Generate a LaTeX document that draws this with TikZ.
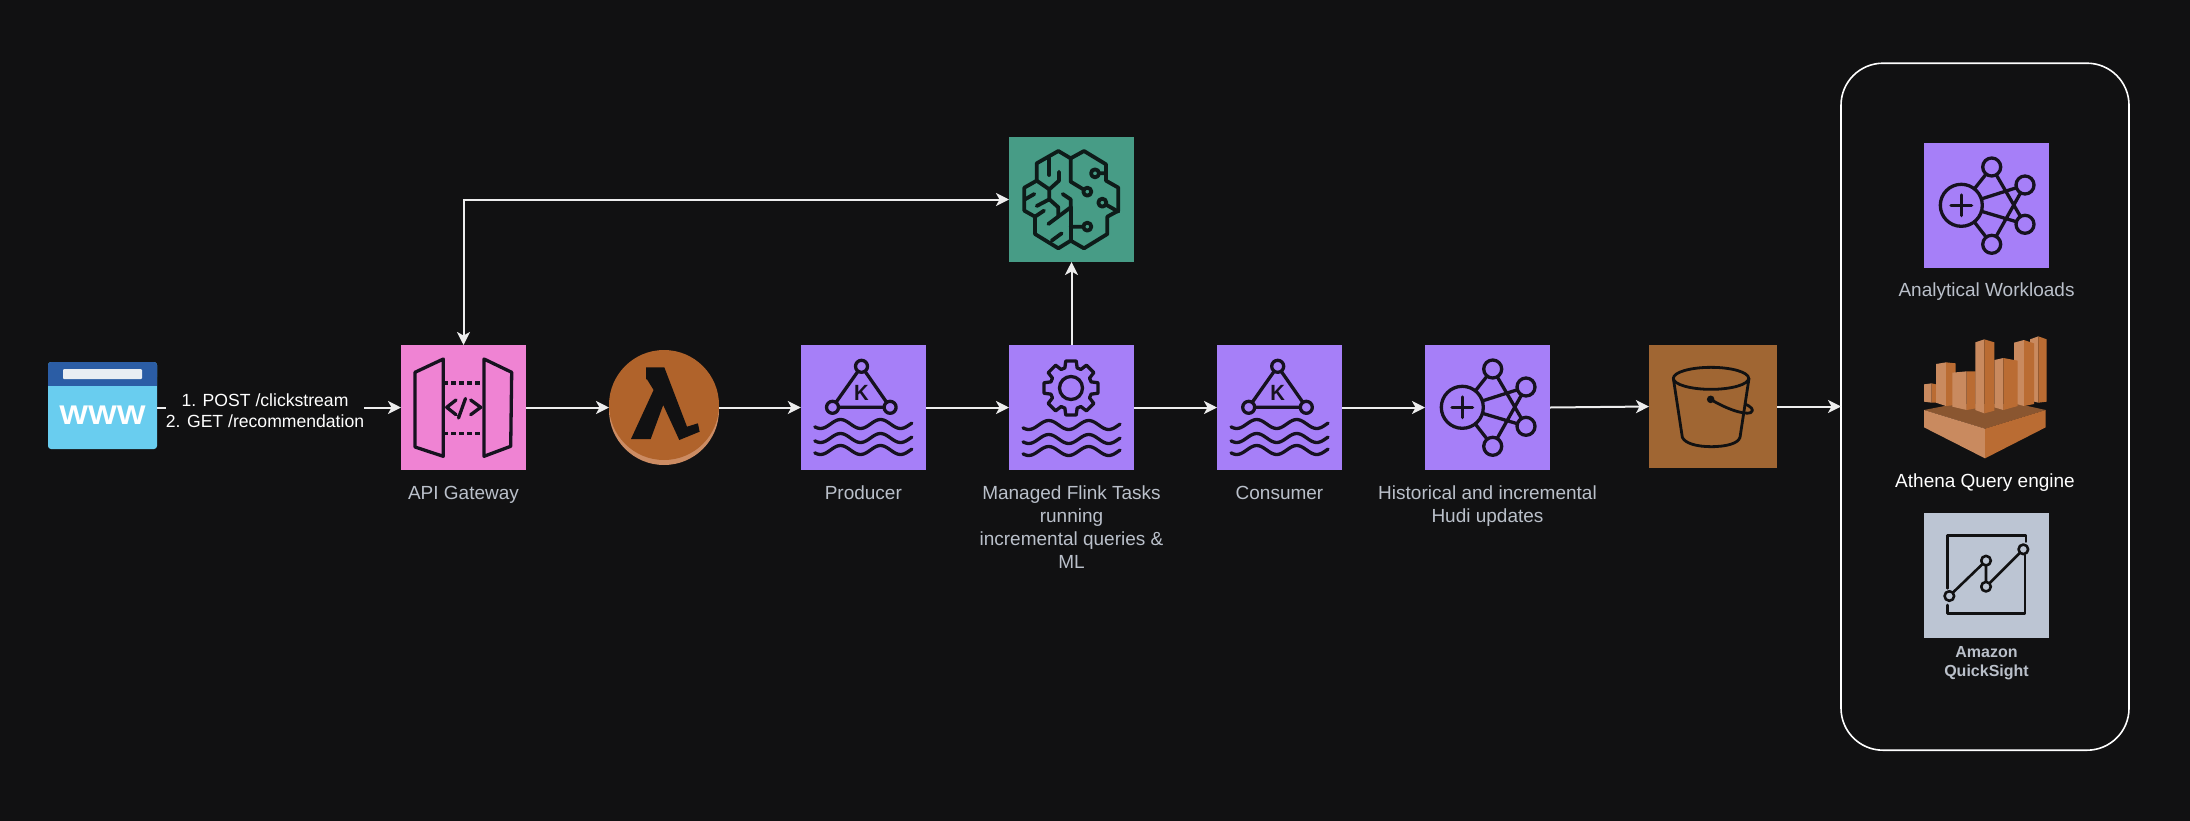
\documentclass[tikz,border=0pt]{standalone}
\usepackage{fontspec}
\setmainfont{Liberation Sans}
\usetikzlibrary{arrows.meta}
\definecolor{bgc}{HTML}{111112}
\definecolor{inkc}{HTML}{16121F}
\definecolor{lblc}{HTML}{BAC0CA}
\definecolor{linec}{HTML}{EDEDED}
\definecolor{purplec}{HTML}{A67FF8}
\definecolor{pinkc}{HTML}{EF83D3}
\definecolor{tealc}{HTML}{479C86}
\definecolor{brownc}{HTML}{A06633}
\definecolor{greyc}{HTML}{BCC5D3}
\definecolor{lamc}{HTML}{B0632B}
\definecolor{lamlc}{HTML}{CC8C63}
\definecolor{athl}{HTML}{C98A5F}
\definecolor{athd}{HTML}{BA6C33}
\definecolor{athm}{HTML}{8A5630}
\definecolor{wwwl}{HTML}{69CDEF}
\definecolor{wwwd}{HTML}{2B5DA5}
\definecolor{wwwb}{HTML}{E9EEF3}
\definecolor{brainc}{HTML}{0E1B19}
\tikzset{
  tile/.style={fill=#1,draw=none,minimum size=125pt,inner sep=0pt,outer sep=0pt},
  lbl/.style={text=lblc,align=center,inner sep=0pt,font=\fontsize{19}{23}\selectfont},
  conn/.style={draw=linec,line width=2pt,-{Stealth[length=13pt,width=13pt,inset=3.5pt]}},
  ink/.style={draw=inkc,line width=3.3pt,line join=round,line cap=round},
  brain/.style={draw=brainc,line width=3.8pt,line join=round,line cap=round}
}
\newcommand{\kafkaicon}[1]{%
\begin{scope}[shift={(#1.north west)}]
  \draw[ink] (60.7,21.3)--(31.7,62.3)--(89.3,62.3)--cycle;
  \foreach \p in {(60.7,21.3),(31.7,62.3),(89.3,62.3)}
    \draw[ink,fill=purplec] \p circle[radius=6pt];
  \path (60.7,47.5) node[text=inkc,inner sep=0pt,font=\bfseries\fontsize{22}{22}\selectfont,xscale=.92]{K};
  \foreach \yy in {79,93,105}
    \draw[ink] plot[domain=14:111,samples=50,smooth] (\x,{\yy-4.5*cos(9*(\x-39.7))});
\end{scope}}
\newcommand{\hudiicon}[1]{%
\begin{scope}[shift={(#1.north west)}]
  \draw[ink] (37.3,62.3)--(67.7,24)--(101,81.3)--(37.3,62.3)--(101,42)--(67.7,101.3)--cycle;
  \draw[ink,fill=purplec] (37.3,62.3) circle[radius=21pt];
  \foreach \p in {(67.7,24),(101,42),(101,81.3),(67.7,101.3)}
    \draw[ink,fill=purplec] \p circle[radius=9pt];
  \draw[ink] (27,62.3)--(47.6,62.3) (37.3,52)--(37.3,72.6);
\end{scope}}
\begin{document}
\begin{tikzpicture}[x=1pt,y=-1pt]
\useasboundingbox (0,0) rectangle (2190,820);
\fill[bgc] (-3,-3) rectangle (2193,823);

% container
\node[draw=white,line width=1.6pt,rounded corners=42pt,minimum width=288pt,minimum height=687pt,inner sep=0pt,outer sep=0pt] (cont) at (1985,406.7) {};

% browser
\node[minimum width=109pt,minimum height=87pt,inner sep=0pt,outer sep=0pt] (www) at (102.5,405.5) {};
\fill[wwwl,rounded corners=3pt] (www.north west) rectangle (www.south east);
\fill[wwwd,rounded corners=3pt] (48,362) rectangle (157,380);
\fill[wwwd] (48,372) rectangle (157,386);
\fill[wwwb,rounded corners=1pt] (63,369) rectangle (142,379);
\node[text=white,inner sep=0pt,font=\bfseries\fontsize{27}{27}\selectfont,xscale=1.13] (wwwt) at (102.5,415.7) {WWW};

% tiles
\node[tile=pinkc] (gw) at (463.5,407.5) {};
\node[circle,fill=lamlc,minimum size=110pt,inner sep=0pt,outer sep=0pt] (lamb) at (664,410) {};
\fill[lamc] (664,405) circle[radius=55pt];
\node[tile=purplec] (prod) at (863.3,407.5) {};
\node[tile=purplec] (flink) at (1071.5,407.5) {};
\node[tile=tealc] (sage) at (1071.5,199.5) {};
\node[tile=purplec] (cons) at (1279.5,407.5) {};
\node[tile=purplec] (hudi) at (1487.5,407.5) {};
\node[fill=brownc,minimum width=128pt,minimum height=123pt,inner sep=0pt,outer sep=0pt] (s3) at (1713,406.5) {};
\node[tile=purplec] (ana) at (1986.5,205.5) {};
\node[tile=greyc] (qs) at (1986.5,575) {};

% connectors
\coordinate (wwwr) at (www.east |- gw.west);
\draw[conn] (wwwr) -- node[pos=.4426,yshift=-3.5pt,fill=bgc,text=white,inner sep=0pt,align=center,font=\fontsize{17.6}{21}\selectfont] (req) {1. POST /clickstream\\2. GET /recommendation} (gw.west);
\draw[conn] (gw.east) -- (gw.east -| lamb.west);
\draw[conn] (gw.east -| lamb.east) -- (prod.west);
\draw[conn] (prod.east) -- (flink.west);
\draw[conn] (flink.east) -- (cons.west);
\draw[conn] (cons.east) -- (hudi.west);
\draw[conn] (hudi.east) -- (s3.west);
\draw[conn] (s3.east) -- (s3.east -| cont.west);
\draw[conn] (flink.north) -- (sage.south);
\draw[conn,{Stealth[length=13pt,width=13pt,inset=3.5pt]}-{Stealth[length=13pt,width=13pt,inset=3.5pt]}] (gw.north) |- (sage.west);

% gateway icon
\begin{scope}[shift={(gw.north west)}]
  \draw[ink] (42.3,14)--(14,27.3)--(14,102)--(42.3,111.3)--cycle;
  \draw[ink] (83,14)--(110.7,27.3)--(109.7,101.3)--(83,111.3)--cycle;
  \draw[ink,line cap=butt,dash pattern=on 4.5pt off 3.5pt] (42.3,38)--(83,38) (42.3,88.7)--(83,88.7);
  \draw[ink] (55,55)--(45.7,62.3)--(55,69.7) (64.5,53.5)--(57.5,73) (69.7,55)--(79.7,62.3)--(69.7,69.7);
\end{scope}

% lambda
\fill[fill=bgc] (646,367.3)--(664.3,367.3)--(687,426.7)--(697.9,423.3)--(699.6,431.7)--(679.3,440)--(663.2,405)--(650.7,439)--(631,439)--(653.6,390)--(647,379.3)--(646,379.3)--cycle;

\kafkaicon{prod}
\kafkaicon{cons}
\hudiicon{hudi}
\hudiicon{ana}

% flink icon
\begin{scope}[shift={(flink.north west)}]
  \begin{scope}[shift={(62,43)}]
    \draw[ink] (-17:21) \foreach \a in {0,45,...,315}{ -- ({\a-17}:21) -- ({\a-11}:27.5) -- ({\a+11}:27.5) -- ({\a+17}:21) } -- cycle;
    \draw[ink] (0,0) circle[radius=11.5pt];
  \end{scope}
  \foreach \yy in {80,94,106}
    \draw[ink] plot[domain=14:111,samples=50,smooth] (\x,{\yy-4.5*cos(9*(\x-39.7))});
\end{scope}

% sagemaker
\begin{scope}[shift={(990,120)},x=.33333pt,y=-.33333pt]
  \draw[brain] (242,115)--(205,93)--(140,130)--(140,182)--(103,203)--(103,272)--(135,290)--(135,342)--(205,385)--(242,362)--(282,385)--(352,342)--(352,290)--(385,272)--(385,203)--(348,182)--(348,133)--(282,93)--cycle;
  \draw[brain] (242,115)--(242,185)--(280,208);
  \draw[brain] (242,262)--(242,362);
  \draw[brain] (328,160)--(348,160) (350,255)--(385,275) (280,320)--(242,320);
  \draw[brain] (178,115)--(178,165);
  \draw[brain] (207,155)--(207,182)--(178,208)--(140,182);
  \draw[brain] (178,208)--(178,238)--(205,262)--(205,290);
  \draw[brain] (218,222)--(242,238)--(242,262)--(175,312);
  \draw[brain] (105,238)--(133,222);
  \draw[brain] (140,258)--(178,238);
  \draw[brain] (135,290)--(162,272);
  \draw[brain] (185,362)--(215,340);
  \foreach \p in {(292,215),(315,160),(337,248),(292,320)}
    \draw[brain] \p circle[radius=4pt];
\end{scope}

% bucket
\begin{scope}[shift={(1630,330)},x=.33333pt,y=-.33333pt]
  \tikzset{bk/.style={draw=bgc,line width=2.8pt,line cap=round,line join=round}}
  \draw[bk] (243,145) ellipse[x radius=113,y radius=33];
  \draw[bk] (130,145)--(157,322) .. controls (165,340) and (200,350) .. (243,350) .. controls (290,350) and (325,340) .. (330,322)--(357,145);
  \fill[bgc] (242,208) circle[radius=3.8pt];
  \draw[bk] (242,208) .. controls (280,232) and (340,256) .. (362,248) .. controls (376,240) and (360,228) .. (345,222);
\end{scope}

% athena
\begin{scope}[shift={(1915,330)},x=.33333pt,y=-.33333pt]
  \fill[athm] (27,240)--(120,222)--(310,222)--(392,240)--(210,296)--cycle;
  \fill[athl] (27,240)--(210,296)--(210,385)--(27,292)--cycle;
  \fill[athd] (210,296)--(392,240)--(392,292)--(210,385)--cycle;
  % bar 7
  \fill[athl] (345,28)--(370,19)--(370,218)--(345,212)--cycle;
  \fill[athd] (370,19)--(395,28)--(395,215)--(370,218)--cycle;
  % bar 6
  \fill[athl] (297,38)--(327,30)--(327,228)--(297,220)--cycle;
  \fill[athd] (327,30)--(357,40)--(357,222)--(327,228)--cycle;
  % bar 1
  \fill[athl] (27,163)--(50,160)--(50,218)--(27,215)--cycle;
  \fill[athd] (50,160)--(63,163)--(63,218)--(50,218)--cycle;
  % bar 2
  \fill[athl] (63,102)--(93,97)--(93,228)--(63,218)--cycle;
  \fill[athd] (93,97)--(122,100)--(122,225)--(93,228)--cycle;
  % bar 3
  \fill[athl] (112,128)--(155,124)--(155,240)--(112,230)--cycle;
  \fill[athd] (155,124)--(182,124)--(182,235)--(155,240)--cycle;
  % bar 5
  \fill[athl] (238,90)--(265,84)--(265,240)--(238,232)--cycle;
  \fill[athd] (265,84)--(308,92)--(308,228)--(265,240)--cycle;
  % bar 4
  \fill[athl] (181,37)--(208,28)--(208,250)--(181,240)--cycle;
  \fill[athd] (208,28)--(238,37)--(238,242)--(208,250)--cycle;
\end{scope}

% quicksight
\begin{scope}[shift={(1880,500)},x=.33333pt,y=-.33333pt]
  \tikzset{qk/.style={draw=bgc,line width=2.6pt,line join=round}}
  \draw[qk,line cap=round] (438,125)--(438,107)--(202,107)--(202,265);
  \draw[qk,line cap=round] (435,165)--(435,340)--(202,340)--(202,315);
  \draw[qk] (208,288)--(318,182)--(318,260)--(430,148);
  \foreach \p in {(208,288),(318,182),(318,260),(430,148)}
    \draw[qk,fill=greyc] \p circle[radius=4.8pt];
\end{scope}

% labels
\node[lbl,anchor=base] (l1) at (463.5,499.3) {API Gateway};
\node[lbl,anchor=base] (l2) at (863.3,499.3) {Producer};
\node[lbl,anchor=north] (l3) at (1071.5,485.5) {Managed Flink Tasks\\running\\incremental queries \&\\ML};
\node[lbl,anchor=base] (l4) at (1279.5,499.3) {Consumer};
\node[lbl,anchor=north] (l5) at (1487.5,485.5) {Historical and incremental\\Hudi updates};
\node[lbl,anchor=base] (l6) at (1986.5,296.7) {Analytical Workloads};
\node[lbl,anchor=base,text=white] (l7) at (1985,487.7) {Athena Query engine};
\node[lbl,font=\bfseries\fontsize{16}{19}\selectfont] (l8) at (1986.5,663.4) {Amazon\\QuickSight};
\end{tikzpicture}
\end{document}
